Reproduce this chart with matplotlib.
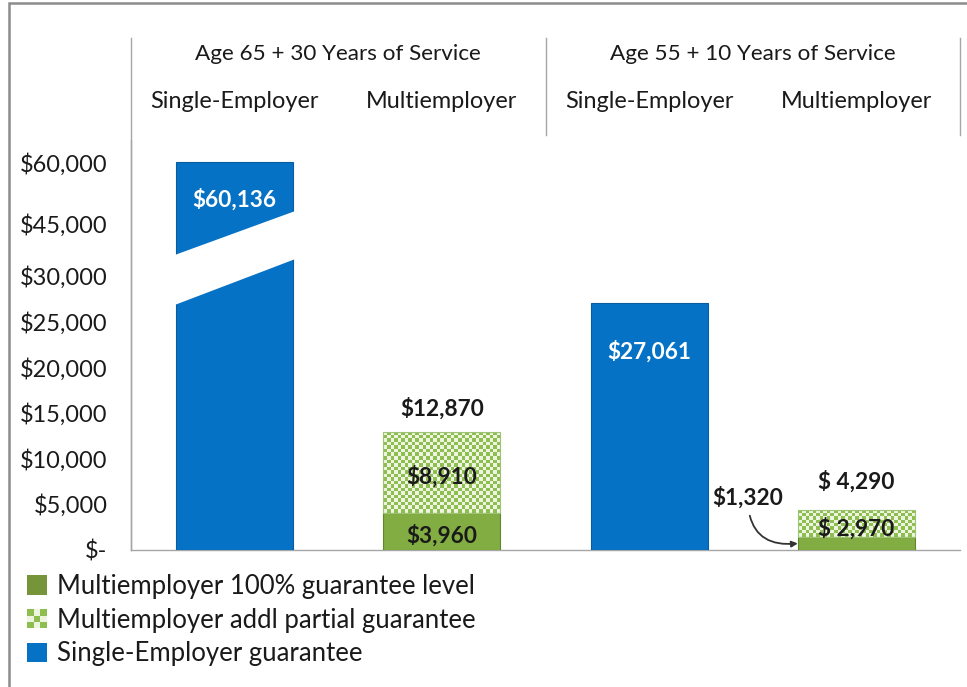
import numpy as np
import matplotlib
matplotlib.use("Agg")
import matplotlib.pyplot as plt
import matplotlib.transforms as mtransforms
from matplotlib.patches import Rectangle, Polygon, Patch
from matplotlib.lines import Line2D
from matplotlib.colors import ListedColormap
from matplotlib.legend_handler import HandlerBase

plt.rcParams['font.family'] = ['Lato', 'DejaVu Sans']

# ---------------- data ----------------
categories = ["Single-Employer", "Multiemployer", "Single-Employer", "Multiemployer"]
groups = ["Age 65 + 30 Years of Service", "Age 55 + 10 Years of Service"]
group_members = [[0, 1], [2, 3]]
single_employer = [60136, 0, 27061, 0]
multi_full = [0, 3960, 0, 1320]
multi_partial = [0, 8910, 0, 2970]
ytick_values = [0, 5000, 10000, 15000, 20000, 25000, 30000, 45000, 60000]
ytick_labels = ["$-", "$5,000", "$10,000", "$15,000", "$20,000", "$25,000",
                "$30,000", "$45,000", "$60,000"]
legend_labels = ["Multiemployer 100% guarantee level",
                 "Multiemployer addl partial guarantee",
                 "Single-Employer guarantee"]

# ---------------- style ----------------
BLUE = '#0672c6'
BLUE_EDGE = '#0a5c9e'
GREEN = '#82ad42'
GREEN_EDGE = '#62872a'
CHECK_DARK = '#8fbe50'
CHECK_LIGHT = '#edf5e0'
TXT = '#1a1a1a'
LINE = '#a6a6a6'

W, H = 967, 687
fig = plt.figure(figsize=(W / 100, H / 100), dpi=100)

def fx(px):
    return px / W

def fy(py):
    return 1 - py / H

# axes placement (pixels)
AX_L, AX_R, AX_B, AX_T = 131, 960, 549.5, 140
ax = fig.add_axes([fx(AX_L), fy(AX_B), fx(AX_R - AX_L), (AX_B - AX_T) / H])

# broken axis scale (piecewise linear)
BREAK_IN = np.array([0, 30000, 45000, 60000], float)
BREAK_OUT = np.array([0, 30000, 35700, 42400], float)
HI_SLOPE = (BREAK_OUT[-1] - BREAK_OUT[-2]) / (BREAK_IN[-1] - BREAK_IN[-2])

def fwd(v):
    v = np.asarray(v, float)
    out = np.interp(v, BREAK_IN, BREAK_OUT)
    out = np.where(v > BREAK_IN[-1], BREAK_OUT[-1] + (v - BREAK_IN[-1]) * HI_SLOPE, out)
    out = np.where(v < 0, v, out)
    return out

def inv(u):
    u = np.asarray(u, float)
    out = np.interp(u, BREAK_OUT, BREAK_IN)
    out = np.where(u > BREAK_OUT[-1], BREAK_IN[-1] + (u - BREAK_OUT[-1]) / HI_SLOPE, out)
    out = np.where(u < 0, u, out)
    return out

ax.set_yscale('function', functions=(fwd, inv))

x = np.arange(len(categories))
bw = 0.565
PX_PER_UNIT = 9.12 / 1000.0
top_units = (AX_B - AX_T) / PX_PER_UNIT
XLIM = (-0.5, len(categories) - 0.5)
YLIM = (0, float(inv(top_units)))

se = np.array(single_employer, float)
mf = np.array(multi_full, float)
mp = np.array(multi_partial, float)
se_idx = np.nonzero(se)[0]
m_idx = np.nonzero(mf + mp)[0]

blue_bars = ax.bar(x[se_idx], se[se_idx], bw, color=BLUE, edgecolor=BLUE_EDGE,
                   linewidth=0.8, zorder=3)
full_bars = ax.bar(x[m_idx], mf[m_idx], bw, color=GREEN, edgecolor=GREEN_EDGE,
                   linewidth=0.8, zorder=3)
part_bars = ax.bar(x[m_idx], mp[m_idx], bw, bottom=mf[m_idx], facecolor='none',
                   edgecolor='#9fc374', linewidth=0.8, zorder=3)

ax.set_xlim(*XLIM)
ax.set_ylim(*YLIM)
ax.set_autoscale_on(False)

# checkered fill for the partial-guarantee bars
cmap_chk = ListedColormap([CHECK_LIGHT, CHECK_DARK])
for p in part_bars:
    bb = p.get_window_extent()
    ncol = max(1, int(round(bb.width / 3.6)))
    nrow = max(1, int(round(bb.height / 3.6)))
    arr = np.add.outer(np.arange(nrow), np.arange(ncol)) % 2
    x0, y0 = p.get_x(), p.get_y()
    ax.imshow(arr, cmap=cmap_chk, extent=(x0, x0 + p.get_width(), y0, y0 + p.get_height()),
              origin='lower', aspect='auto', interpolation='nearest', zorder=2.5,
              clip_path=p, vmin=0, vmax=1)
ax.set_xlim(*XLIM)
ax.set_ylim(*YLIM)

# axis break band across the tall bar
band = Polygon([(fx(172), fy(306)), (fx(172), fy(256)), (fx(298), fy(210)), (fx(298), fy(258))],
               closed=True, transform=fig.transFigure, facecolor='white', edgecolor='none',
               zorder=10)
fig.add_artist(band)

# ---------------- axes styling ----------------
for s in ['top', 'right']:
    ax.spines[s].set_visible(False)
ax.spines['left'].set_color(LINE)
ax.spines['bottom'].set_color(LINE)
ax.spines['left'].set_linewidth(1.0)
ax.spines['bottom'].set_linewidth(1.0)

ax.set_yticks(ytick_values)
ax.set_yticklabels(ytick_labels)
ax.yaxis.set_minor_locator(matplotlib.ticker.NullLocator())
ax.tick_params(axis='y', length=0, pad=17, labelsize=16.9, labelcolor=TXT)

ax.set_xticks(x)
ax.set_xticklabels(categories)
ax.xaxis.set_ticks_position('top')
ax.tick_params(axis='x', length=0, pad=20, labelsize=16.9, labelcolor=TXT)

blend = mtransforms.blended_transform_factory(ax.transData, ax.transAxes)

def axfrac(py):
    return (AX_B - py) / (AX_B - AX_T)

for g, members in zip(groups, group_members):
    ax.text(np.mean(x[members]), axfrac(54), g, transform=blend, ha='center', va='center',
            fontsize=16.2, color=TXT)

# header separators
for xpos, ybot in [(XLIM[0], AX_B), (1.5, 135), (XLIM[1], 135)]:
    ax.add_line(Line2D([xpos, xpos], [axfrac(ybot), axfrac(38)], transform=blend,
                       color=LINE, lw=1.0, clip_on=False))

# ---------------- data labels ----------------
lab_kw = dict(ha='center', va='center', fontsize=16.3, fontweight='bold')
se_label_offsets = [-27, -35]
for k, i in enumerate(se_idx):
    ax.annotate(f"${se[i]:,.0f}", (x[i], se[i]), xytext=(0, se_label_offsets[k]),
                textcoords='offset points', color='white', zorder=12, **lab_kw)

total_fmt = ["${:,.0f}", "$ {:,.0f}"]
part_fmt = ["${:,.0f}", "$ {:,.0f}"]
total_offsets = [17, 21]
for k, i in enumerate(m_idx):
    tot = mf[i] + mp[i]
    ax.annotate(total_fmt[k].format(tot), (x[i], tot), xytext=(0, total_offsets[k]),
                textcoords='offset points', color=TXT, zorder=12, **lab_kw)
    ax.annotate(part_fmt[k].format(mp[i]), (x[i], mf[i] + mp[i] / 2), xytext=(0, -3),
                textcoords='offset points', color=TXT, zorder=12, **lab_kw)

# base label inside the first multiemployer bar
i0 = m_idx[0]
ax.annotate(f"${mf[i0]:,.0f}", (x[i0], mf[i0] / 2), xytext=(0, -3),
            textcoords='offset points', color=TXT, zorder=12, **lab_kw)

# base label with curved arrow for the second multiemployer bar
i1 = m_idx[1]
ax.annotate(f"${mf[i1]:,.0f}", xy=(x[i1] - bw / 2, mf[i1] / 2), xytext=(-36, 33),
            textcoords='offset points', color=TXT, zorder=12,
            arrowprops=dict(arrowstyle='-|>', color='#333333', lw=1.3,
                            connectionstyle='arc3,rad=0.55', shrinkA=3, shrinkB=0,
                            mutation_scale=9),
            **lab_kw)

# ---------------- legend ----------------
class CheckerHandle:
    pass

class HandlerChecker(HandlerBase):
    def create_artists(self, legend, orig_handle, xdescent, ydescent, width, height,
                       fontsize, trans):
        n = 3
        arts = []
        cw, ch = width / n, height / n
        for r in range(n):
            for c in range(n):
                col = CHECK_DARK if (r + c) % 2 == 0 else CHECK_LIGHT
                arts.append(Rectangle((-xdescent + c * cw, -ydescent + r * ch), cw, ch,
                                      facecolor=col, edgecolor='none', transform=trans))
        return arts

handles = [Patch(facecolor='#76953a', edgecolor='none'), CheckerHandle(),
           Patch(facecolor=BLUE, edgecolor='none')]
fig.legend(handles, legend_labels, handler_map={CheckerHandle: HandlerChecker()},
           loc='upper left', bbox_to_anchor=(fx(27), fy(574)), frameon=False,
           fontsize=18.5, handlelength=0.78, handleheight=0.78, handletextpad=0.39,
           labelspacing=0.34, borderpad=0, borderaxespad=0, labelcolor=TXT)

# outer frame
fig.add_artist(Rectangle((fx(9), -0.1), 1.2, fy(3) + 0.1, transform=fig.transFigure,
                         fill=False, edgecolor='#8c8c8c', linewidth=1.8))

fig.savefig("out.png", dpi=100)
